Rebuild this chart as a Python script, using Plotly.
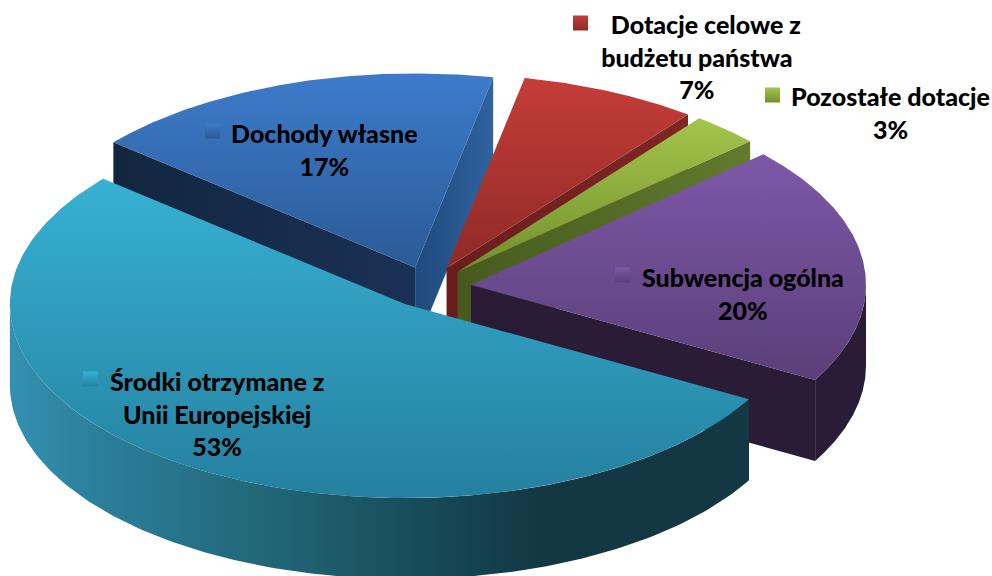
import numpy as np
import plotly.graph_objects as go

# ---- data ----
categories = ["Dotacje celowe z budżetu państwa", "Pozostałe dotacje", "Subwencja ogólna",
              "Środki otrzymane z Unii Europejskiej", "Dochody własne"]
values = [7.3, 2.8, 19.9, 53, 17]
label_text = ["\u00a0\u00a0\u00a0Dotacje celowe z<br>budżetu państwa<br>7%",
              "Pozostałe dotacje<br>3%",
              "Subwencja ogólna<br>20%",
              "Środki otrzymane z<br>Unii Europejskiej<br>53%",
              "Dochody własne<br>17%"]

# ---- geometry of the tilted pie (canvas px units on the axes) ----
START = 78.6      # degrees, slices run clockwise
CX, CY = 429, 287
RX, RY = 395, 194
PULL = 0.107
DEPTH = 81

# ---- styles, same order as categories ----
top_cols = [("#c63d38", "#8e2a27"), ("#a3c54b", "#72902e"), ("#7e58a8", "#5a3f79"),
            ("#37b1d3", "#25809f"), ("#3d7bca", "#2b5b97")]
cw_wall = [[(0, "#6a1d1c"), (1, "#7f2725")],
           [(0, "#465a1f"), (1, "#617b2e")],
           [(0, "#2a1c36"), (1, "#2a1c36")],
           [(0, "#143743"), (1, "#143743")],
           [(0, "#1f4a7c"), (1, "#2f639f")]]
ccw_wall = [[(0, "#6a1d1c"), (1, "#6a1d1c")],
            [(0, "#465a1f"), (1, "#465a1f")],
            [(0, "#2a1c36"), (1, "#2a1c36")],
            [(0, "#143743"), (1, "#143743")],
            [(0, "#12263f"), (1, "#1a3156")]]
arc_wall = [[(0, "#6a1d1c"), (1, "#6a1d1c")],
            [(0, "#465a1f"), (1, "#465a1f")],
            [(0, "#2a1c36"), (1, "#2a1c36")],
            [(0, "#3391b0"), (0.12, "#2b7f9c"), (0.35, "#216676"), (0.55, "#184c5a"), (0.72, "#133743"), (1, "#133743")],
            [(0, "#12263f"), (1, "#1a3156")]]
key_cols = [("#c63d38", "#8e2a27"), ("#a3c54b", "#72902e"), ("#7e58a8", "#5a3f79"),
            ("#37b1d3", "#25809f"), ("#3d7bca", "#2b5b97")]
key_x = [580.5, 772.5, 622.5, 90.5, 212.5]
key_y = [23, 95, 275, 379, 131]
label_x = [697, 890, 743, 216.5, 324]
label_y = [56, 112, 293, 413, 149]


def poly(fig, xs, ys, gradient, orient):
    fig.add_trace(go.Scatter(
        x=xs, y=ys, mode="lines", line=dict(width=0), fill="toself",
        fillgradient=dict(type=orient, colorscale=gradient),
        hoverinfo="skip", showlegend=False))


fig = go.Figure()

# slice angles from the values
spans = np.array(values) / sum(values) * 360
his = START - np.concatenate([[0], np.cumsum(spans)[:-1]])
los = his - spans
mids = (his + los) / 2
order = np.argsort(-np.sin(np.radians(mids)))


def pt(c, a):
    return c[0] + RX * np.cos(np.radians(a)), c[1] - RY * np.sin(np.radians(a))


for i in order:
    hi, lo, mid = his[i], los[i], mids[i]
    c = (CX + PULL * RX * np.cos(np.radians(mid)), CY - PULL * RY * np.sin(np.radians(mid)))
    # radial wall at the counter-clockwise end
    if np.sin(np.radians(hi + 90)) < 0:
        px, py = pt(c, hi)
        poly(fig, [c[0], px, px, c[0], c[0]], [c[1], py, py + DEPTH, c[1] + DEPTH, c[1]], ccw_wall[i], "horizontal")
    # radial wall at the clockwise end
    if np.sin(np.radians(lo - 90)) < 0:
        px, py = pt(c, lo)
        poly(fig, [c[0], px, px, c[0], c[0]], [c[1], py, py + DEPTH, c[1] + DEPTH, c[1]], cw_wall[i], "horizontal")
    # outer curved wall, front part only
    a0, a1 = max(lo, -180), min(hi, 0)
    if a1 > a0:
        t = np.linspace(a0, a1, 160)
        ax, ay = pt(c, t)
        poly(fig, np.r_[ax, ax[::-1]], np.r_[ay, ay[::-1] + DEPTH], arc_wall[i], "horizontal")
    # top face
    t = np.linspace(lo, hi, 200)
    ax, ay = pt(c, t)
    fig.add_trace(go.Scatter(
        x=np.r_[c[0], ax, c[0]], y=np.r_[c[1], ay, c[1]], mode="lines", line=dict(width=0), fill="toself",
        fillgradient=dict(type="vertical", colorscale=[(0, top_cols[i][1]), (1, top_cols[i][0])]),
        hoverinfo="skip", showlegend=False))

# legend keys inside the labels
for i in range(len(categories)):
    fig.add_trace(go.Scatter(
        x=[key_x[i]], y=[key_y[i]], mode="markers",
        marker=dict(symbol="square", size=15, color=key_cols[i][0],
                    gradient=dict(type="vertical", color=key_cols[i][1]), line=dict(width=0)),
        hoverinfo="skip", showlegend=False))
    fig.add_annotation(x=label_x[i], y=label_y[i], text=label_text[i], showarrow=False,
                       xanchor="center", yanchor="middle", align="center",
                       font=dict(family="Lato", size=25, color="#000000", weight=900))

fig.update_xaxes(range=[0, 992], visible=False, fixedrange=True)
fig.update_yaxes(range=[576, 0], visible=False, fixedrange=True)
fig.update_layout(width=992, height=576, margin=dict(l=0, r=0, t=0, b=0),
                  paper_bgcolor="white", plot_bgcolor="white", showlegend=False)
fig.write_html("out.html", config={"displayModeBar": False},
               post_script="document.body.style.margin='0';document.body.style.overflow='hidden';")
